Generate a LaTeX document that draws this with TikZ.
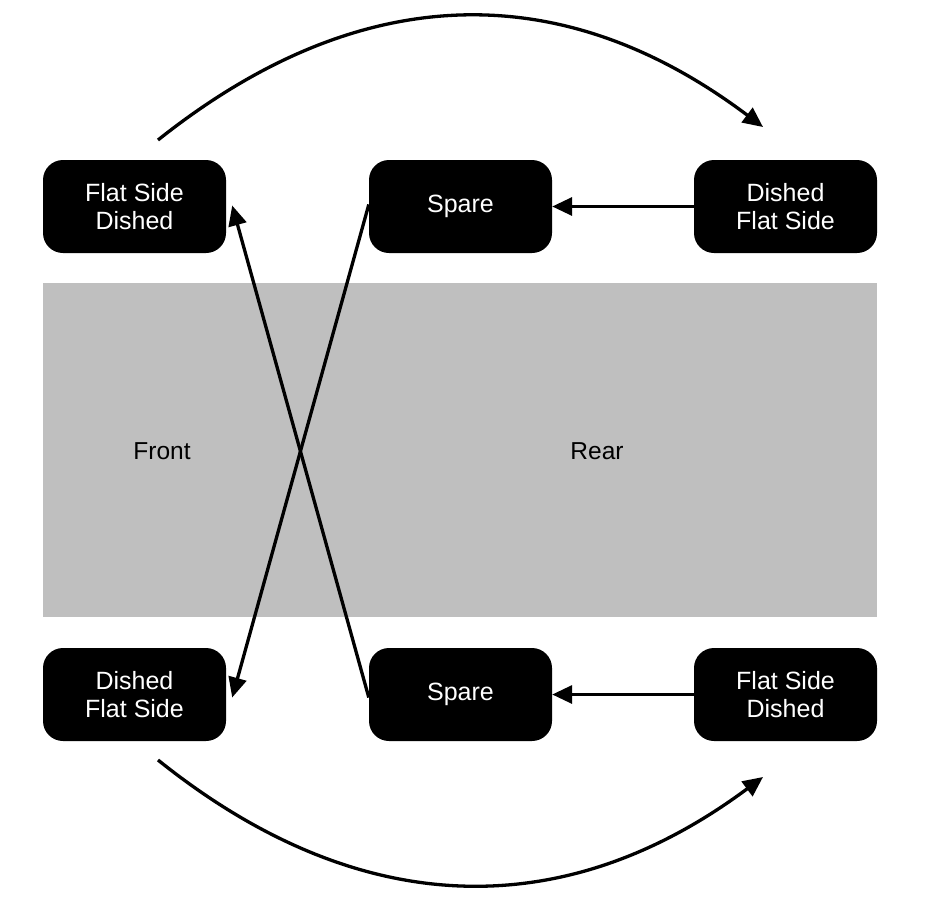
\documentclass[tikz,border=0pt]{standalone}
\usepackage{fontspec}
\setmainfont{Liberation Sans}
\usetikzlibrary{arrows.meta}
\begin{document}
\begin{tikzpicture}[x=1pt,y=-1pt,
  tyre/.style={draw=none,fill=black,text=white,rounded corners=20pt,minimum width=183pt,minimum height=93pt,inner sep=0pt,align=center,font=\fontsize{25}{28.5}\selectfont},
  lbl/.style={font=\fontsize{24.5}{28}\selectfont,text=black},
  conn/.style={line width=3.3pt,-{Triangle[length=20pt,width=18pt]}}]
\useasboundingbox (0,0) rectangle (925,900);
\fill[fill={rgb,255:red,191;green,191;blue,191}] (43,283) rectangle (877,617);
\node[lbl] (front) at (162,451) {Front};
\node[lbl] (rear) at (597,451) {Rear};
\node[tyre] (tl) at (134.5,206.5) {Flat Side\\Dished};
\node[tyre] (tm) at (460.5,206.5) {Spare};
\node[tyre] (tr) at (785.5,206.5) {Dished\\Flat Side};
\node[tyre] (bl) at (134.5,694.5) {Dished\\Flat Side};
\node[tyre] (bm) at (460.5,694.5) {Spare};
\node[tyre] (br) at (785.5,694.5) {Flat Side\\Dished};
\coordinate (ta) at (158,140);
\coordinate (tb) at (763,127);
\coordinate (ba) at (158,760);
\coordinate (bb) at (763,777);
\draw[conn] (tr.west) -- (tm.east);
\draw[conn] (br.west) -- (bm.east);
\draw[conn] ([yshift=2pt]tm.west) -- ([xshift=6pt,yshift=-3pt]bl.east);
\draw[conn] ([yshift=-3pt]bm.west) -- ([xshift=6pt,yshift=1pt]tl.east);
\draw[conn] (ta) .. controls (359,-20) and (561,-25) .. (tb);
\draw[conn] (ba) .. controls (355,918) and (560,928) .. (bb);
\end{tikzpicture}
\end{document}
